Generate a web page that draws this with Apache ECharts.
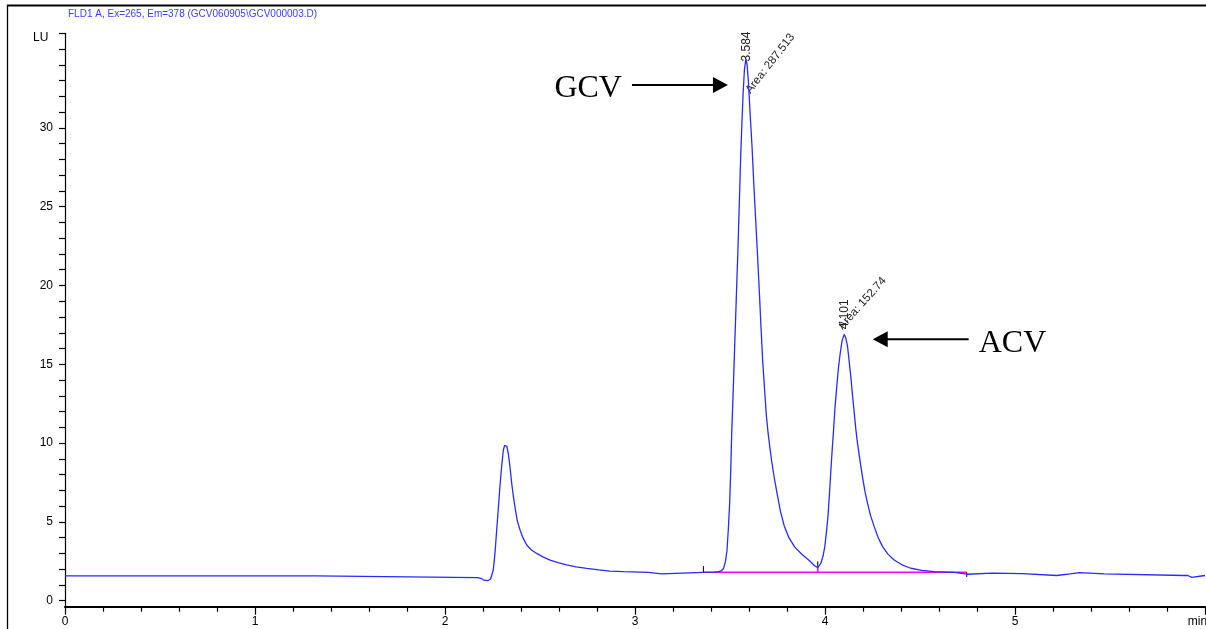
<!DOCTYPE html>
<html><head><meta charset="utf-8">
<script src="https://cdn.jsdelivr.net/npm/echarts@6/dist/echarts.min.js"></script>
<style>html,body{margin:0;padding:0;background:#fff}#c{width:1206px;height:629px}</style>
</head><body><div id="c"></div>
<script>
// ---------- data ----------
const titleText = 'FLD1 A, Ex=265, Em=378 (GCV060905\\GCV000003.D)';
const yUnit = 'LU';
const xTickValues = [0, 1, 2, 3, 4, 5, 6];
const xTickLabels = ['0', '1', '2', '3', '4', '5', 'min'];
const yLabelValues = [0, 5, 10, 15, 20, 25, 30];
const yTickValues = [0,1,2,3,4,5,6,7,8,9,10,11,12,13,14,15,16,17,18,19,20,21,22,23,24,25,26,27,28,29,30,31,32,33,34,35,36];

const time = [0,1.32,1.325,2.17,2.19,2.205,2.225,2.24,2.254,2.263,2.272,2.281,2.289,2.298,2.307,2.314,2.319,2.325,2.333,2.342,2.351,2.36,2.368,2.38,2.395,2.41,2.43,2.455,2.483,2.515,2.553,2.595,2.64,2.69,2.746,2.81,2.868,2.94,2.945,3.07,3.075,3.14,3.145,3.36,3.415,3.44,3.455,3.466,3.476,3.484,3.491,3.498,3.504,3.509,3.516,3.522,3.532,3.541,3.549,3.556,3.563,3.569,3.576,3.584,3.59,3.597,3.606,3.616,3.625,3.635,3.645,3.654,3.663,3.672,3.682,3.691,3.70,3.71,3.72,3.733,3.748,3.765,3.785,3.81,3.841,3.878,3.917,3.945,3.962,3.978,3.99,3.999,4.008,4.017,4.024,4.031,4.038,4.045,4.053,4.062,4.071,4.08,4.09,4.101,4.11,4.119,4.127,4.136,4.145,4.154,4.162,4.171,4.184,4.197,4.21,4.224,4.24,4.259,4.28,4.303,4.33,4.364,4.405,4.452,4.51,4.575,4.68,4.686,4.747,4.75,4.88,4.885,5.04,5.045,5.22,5.225,5.29,5.295,5.34,5.345,5.47,5.475,5.89,5.9,5.91,5.93,5.94,6.0];
const signal = [1.57,1.57,1.48,1.47,1.42,1.3,1.27,1.38,1.95,3.0,4.49,5.9,7.23,8.5,9.56,9.85,9.92,9.8,9.35,8.5,7.45,6.6,5.96,5.1,4.49,4.0,3.53,3.22,3.0,2.78,2.58,2.42,2.27,2.15,2.05,1.95,1.88,1.85,1.8,1.8,1.7,1.7,1.78,1.8,1.82,1.85,1.9,2.04,2.5,3.17,4.5,6.12,8.3,10.65,13.0,15.2,18.8,22.0,25.2,28.1,30.4,32.2,33.7,34.4,34.0,32.9,30.9,28.8,26.5,24.2,21.9,19.7,17.4,15.2,13.4,11.8,10.7,9.7,8.8,7.8,6.8,5.7,4.76,4.0,3.4,2.95,2.55,2.22,2.1,2.37,2.85,3.43,4.4,5.55,6.9,8.29,9.6,10.83,12.3,13.6,14.8,15.7,16.5,16.9,16.65,16.1,15.2,14.2,13.0,11.9,10.9,10.0,8.9,7.87,6.95,6.18,5.4,4.7,4.0,3.43,2.97,2.58,2.28,2.06,1.93,1.84,1.8,1.68,1.68,1.75,1.75,1.72,1.72,1.6,1.6,1.7,1.7,1.78,1.78,1.7,1.7,1.6,1.6,1.48,1.6,1.48,1.6,1.6];

const baselineTimes = [3.36, 4.746];
const baselineLevel = 1.8;
const valleyTime = 3.962;
const valleyLevel = 2.1;

const peakNames = ['GCV', 'ACV'];
const peakTimes = [3.584, 4.101];
const peakHeights = [34.4, 16.9];
const peakAreas = ['287.513', '152.74'];

// ---------- chart ----------
const FONT = '"Liberation Sans", Arial, sans-serif';
const NARROW = '"Liberation Sans Narrow", "Arial Narrow", "Liberation Sans", sans-serif';
const SERIF = '"Liberation Serif", "Times New Roman", serif';
const chart = echarts.init(document.getElementById('c'), null, { renderer: 'canvas' });

const tickStyle = { color: '#000', width: 1.2 };
const option = {
  animation: false,
  backgroundColor: '#fff',
  title: { text: titleText, left: 68, top: 9, padding: 0,
    textStyle: { fontFamily: FONT, fontSize: 10, fontWeight: 'normal', color: '#3c3cff' } },
  grid: { left: 65, right: 1, top: 33.3, bottom: 22.3, containLabel: false, outerBoundsMode: 'none' },
  xAxis: {
    type: 'value', min: 0, max: 6, interval: 1,
    axisLine: { onZero: false, lineStyle: { color: '#000', width: 2 } },
    axisTick: { show: true, length: 8, lineStyle: { color: '#000', width: 1.2 } },
    minorTick: { show: true, splitNumber: 5, length: 5, lineStyle: { color: '#000', width: 1.2 } },
    axisLabel: { margin: 9, fontFamily: NARROW, fontSize: 12, color: '#000', showMaxLabel: true, hideOverlap: false,
      formatter: v => {
        const i = xTickValues.indexOf(v);
        if (i < 0) return '';
        return i === xTickValues.length - 1 ? '{u|' + xTickLabels[i] + '}' : xTickLabels[i];
      },
      rich: { u: { fontFamily: NARROW, fontSize: 12, color: '#000', padding: [0, 15, 0, 0] } } },
    splitLine: { show: false }, minorSplitLine: { show: false }
  },
  yAxis: {
    type: 'value', min: -0.38, max: 36,
    axisLine: { show: true, onZero: false, lineStyle: { color: '#000', width: 1.2 } },
    axisTick: { show: true, length: 6, customValues: yTickValues, lineStyle: tickStyle },
    axisLabel: { customValues: yLabelValues, margin: 12, fontFamily: NARROW, fontSize: 12, color: '#000' },
    splitLine: { show: false }
  },
  series: [
    { type: 'line', name: 'baseline', showSymbol: false, silent: true,
      data: baselineTimes.map(t => [t, baselineLevel]),
      lineStyle: { color: '#ff00ff', width: 1.5 } },
    { type: 'line', name: 'drop', showSymbol: false, silent: true,
      data: [[valleyTime, baselineLevel], [valleyTime, valleyLevel]],
      lineStyle: { color: '#ff00ff', width: 1.5 } },
    { type: 'line', name: 'tickStart', showSymbol: false, silent: true,
      data: [[baselineTimes[0], baselineLevel], [baselineTimes[0], baselineLevel + 0.4]],
      lineStyle: { color: '#000', width: 1 } },
    { type: 'line', name: 'tickValley', showSymbol: false, silent: true,
      data: [[valleyTime, valleyLevel], [valleyTime, valleyLevel + 0.4]],
      lineStyle: { color: '#000', width: 1 } },
    { type: 'line', name: 'tickEnd', showSymbol: false, silent: true,
      data: [[baselineTimes[1], baselineLevel], [baselineTimes[1], baselineLevel - 0.3]],
      lineStyle: { color: '#000', width: 1 } },
    { type: 'line', name: 'FLD1 A', showSymbol: false, silent: true,
      data: time.map((t, i) => [t, signal[i]]),
      lineStyle: { color: '#2a2aff', width: 1.3 } }
  ]
};
chart.setOption(option);

// ---------- annotations anchored on the peaks ----------
const px = (t, v) => chart.convertToPixel({ gridIndex: 0 }, [t, v]);
const g = [];
// frame
g.push({ type: 'line', silent: true, shape: { x1: 7.5, y1: 5, x2: 7.5, y2: 629 }, style: { stroke: '#000', lineWidth: 1.3 } });
g.push({ type: 'line', silent: true, shape: { x1: 7, y1: 5.5, x2: 1206, y2: 5.5 }, style: { stroke: '#000', lineWidth: 2 } });
// unit
g.push({ type: 'text', silent: true, x: 33, y: 38, style: { text: yUnit, fontFamily: NARROW, fontSize: 12, fill: '#000', align: 'left', verticalAlign: 'middle' } });

const rtOffset = [[0.5, 3], [0.5, -5]];
const areaOffset = [[2, 33.5], [-4, -6.5]];
const areaAngle = [52, 48];
const arrowTipOffset = [[-18, 26.5], [28.5, 5]];
peakTimes.forEach((t, i) => {
  const p = px(t, peakHeights[i]);
  g.push({ type: 'text', silent: true, x: p[0] + rtOffset[i][0], y: p[1] + rtOffset[i][1], rotation: Math.PI / 2,
    style: { text: t.toFixed(3), fontFamily: FONT, fontSize: 12, fill: '#222', align: 'left', verticalAlign: 'middle' } });
  g.push({ type: 'text', silent: true, x: p[0] + areaOffset[i][0], y: p[1] + areaOffset[i][1], rotation: areaAngle[i] * Math.PI / 180,
    style: { text: 'Area: ' + peakAreas[i], fontFamily: FONT, fontSize: 11.5, fill: '#222', align: 'left', verticalAlign: 'middle' } });
  const tip = [p[0] + arrowTipOffset[i][0], p[1] + arrowTipOffset[i][1]];
  const dir = i === 0 ? -1 : 1; // tail direction
  g.push({ type: 'line', silent: true, shape: { x1: tip[0] + dir * 14, y1: tip[1], x2: tip[0] + dir * 96, y2: tip[1] },
    style: { stroke: '#000', lineWidth: 2 } });
  g.push({ type: 'polygon', silent: true, shape: { points: [[tip[0] + dir * 15, tip[1] - 8], tip, [tip[0] + dir * 15, tip[1] + 8]] },
    style: { fill: '#000' } });
  g.push({ type: 'text', silent: true, x: tip[0] + dir * 106, y: tip[1] + 4,
    style: { text: peakNames[i], fontFamily: SERIF, fontSize: 32, fill: '#000', align: i === 0 ? 'right' : 'left', verticalAlign: 'middle' } });
});
chart.setOption({ graphic: g });
</script>
</body></html>
